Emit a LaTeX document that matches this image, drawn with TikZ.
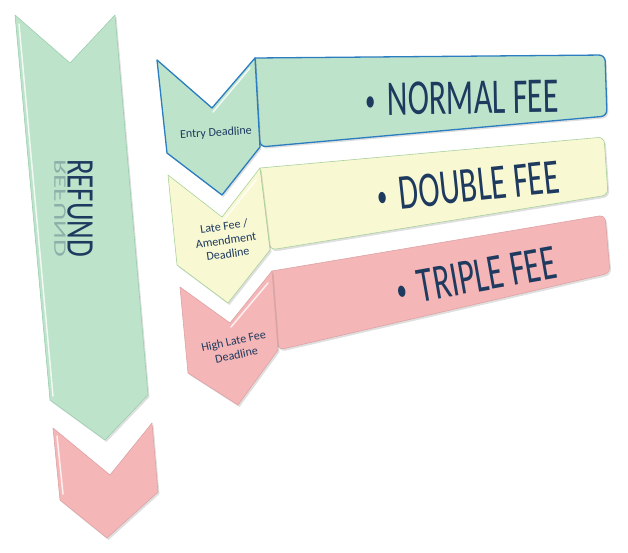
\documentclass[tikz,border=0pt]{standalone}
\usepackage{fontspec}
\setmainfont{Carlito}
\newfontfamily\feefont[FakeStretch=0.64]{Carlito}
\newfontfamily\refundfont[FakeStretch=0.74]{Carlito}
\usetikzlibrary{shadows}
\definecolor{mintF}{HTML}{BDE3CA}
\definecolor{mintD}{HTML}{9CCFAF}
\definecolor{entryD}{HTML}{2B7DC0}
\definecolor{creamF}{HTML}{F8F8D3}
\definecolor{creamD}{HTML}{A9D19C}
\definecolor{roseF}{HTML}{F5B6B7}
\definecolor{roseD}{HTML}{DDA3A5}
\definecolor{inkC}{HTML}{1E3A5F}
\tikzset{
  plate/.style={line width=0.6pt, line join=round,
                drop shadow={opacity=0.25, shadow xshift=1.5pt, shadow yshift=-2pt}},
  mint/.style={plate, fill=mintF, draw=mintD},
  entry/.style={plate, fill=mintF, draw=entryD, line width=1.3pt},
  cream/.style={plate, fill=creamF, draw=creamD},
  rose/.style={plate, fill=roseF, draw=roseD},
  gloss/.style={white, line width=1.5pt, opacity=0.8, line cap=round},
  fee/.style={font={\feefont\fontsize{50}{50}\selectfont}, text=inkC, inner sep=0pt},
  refund/.style={font={\refundfont\fontsize{39}{39}\selectfont}, text=inkC, inner sep=0pt},
  due/.style={font={\fontsize{12}{14}\selectfont}, text=inkC, align=center, inner sep=0pt},
}
\newcommand\feedot{{\fontsize{32}{32}\selectfont\raisebox{4pt}{\textbullet}}\hspace{12pt}}

\begin{document}
\begin{tikzpicture}[x=1pt, y=-1pt]
\useasboundingbox (0,0) rectangle (628,552);
% left column
\draw[mint] (15,15) -- (70,63) -- (115,15) -- (148,395) -- (105,440) -- (50,400) -- cycle;
\draw[rose] (53,428) -- (110,475) -- (152,423) -- (158,492) -- (107,538) -- (60,500) -- cycle;
\draw[gloss] (19,24) -- (53,396);
\draw[gloss] (57,436) -- (63,494);
\node[refund, rotate=-90] (refund) at (80,208) {REFUND};
\node[refund, rotate=-90, yscale=-0.45, opacity=0.3] (refundecho) at (60,208) {REFUND};
% fee bars
\draw[entry, rounded corners=6pt] (255,58) -- (605,55) -- (607,116) -- (260,147) [sharp corners] -- cycle;
\draw[cream, rounded corners=6pt] (260,168) -- (604,137) -- (608,195) -- (270,250) [sharp corners] -- cycle;
\draw[rose, rounded corners=6pt] (272,271) -- (605,215) -- (610,273) -- (278,350) [sharp corners] -- cycle;
% deadline chevrons
\draw[entry] (157,60) -- (212,108) -- (255,58) -- (260,147) -- (222,195) -- (167,153) -- cycle;
\draw[cream] (168,175) -- (222,217) -- (260,168) -- (270,250) -- (228,303) -- (177,265) -- cycle;
\draw[rose] (180,287) -- (230,323) -- (272,271) -- (278,350) -- (238,405) -- (188,373) -- cycle;
\draw[gloss] (213,112) -- (250,68);
\draw[gloss] (223,221) -- (256,180);
\draw[gloss] (231,327) -- (268,283);
\node[fee, rotate=1] (normal) at (462,98) {\feedot NORMAL FEE};
\node[fee, rotate=6] (double) at (468,186) {\feedot DOUBLE FEE};
\node[fee, rotate=10] (triple) at (476,276) {\feedot TRIPLE FEE};
\node[due, rotate=3] (entrydue) at (216,133) {Entry Deadline};
\node[due, rotate=8] (latedue) at (226,240) {Late Fee /\\Amendment\\Deadline};
\node[due, rotate=12] (highdue) at (235,348) {High Late Fee\\Deadline};
\end{tikzpicture}
\end{document}
